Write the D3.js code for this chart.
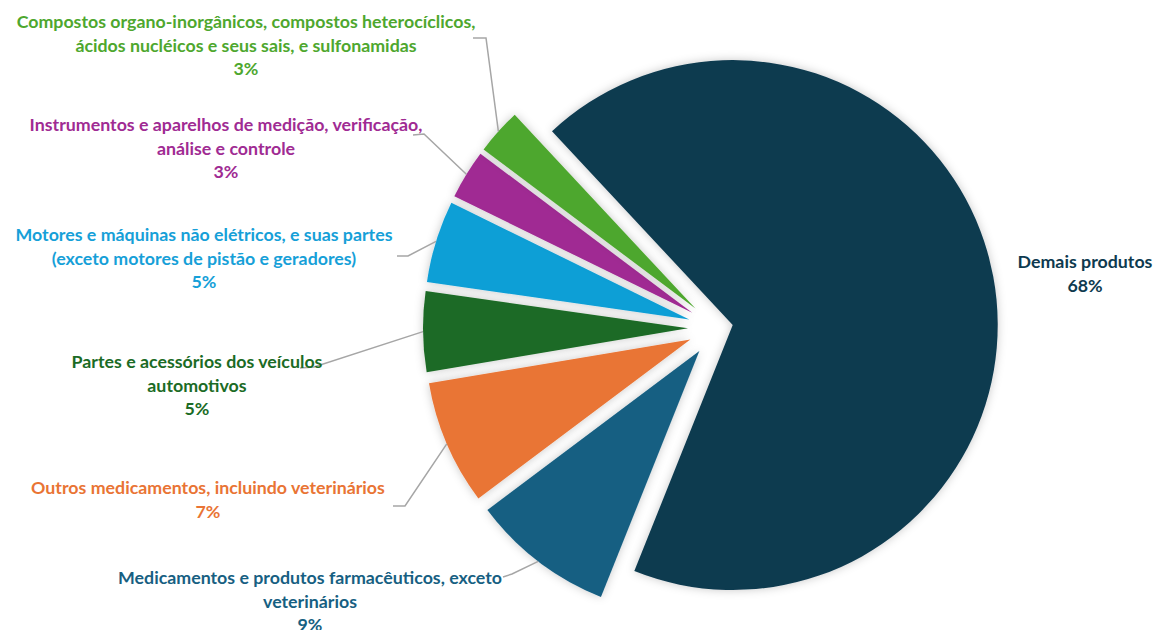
<!DOCTYPE html>
<html>
<head>
<meta charset="utf-8">
<script src="https://cdn.jsdelivr.net/npm/d3@7"></script>
<style>
  html, body { margin: 0; padding: 0; background: #fff; }
  svg { display: block; }
  text { font-family: Lato, "Open Sans", sans-serif; font-weight: bold; }
</style>
</head>
<body>
<svg id="chart" width="1155" height="630"></svg>
<script>
// ---- data ----
const categories = [
  "Demais produtos",
  "Medicamentos e produtos farmacêuticos, exceto veterinários",
  "Outros medicamentos, incluindo veterinários",
  "Partes e acessórios dos veículos automotivos",
  "Motores e máquinas não elétricos, e suas partes (exceto motores de pistão e geradores)",
  "Instrumentos e aparelhos de medição, verificação, análise e controle",
  "Compostos organo-inorgânicos, compostos heterocíclicos, ácidos nucléicos e seus sais, e sulfonamidas"
];
const values = [68.0, 8.7, 7.6, 4.9, 5.0, 3.0, 2.8];
const percentLabels = ["68%", "9%", "7%", "5%", "5%", "3%", "3%"];
const labelLines = [
  ["Demais produtos"],
  ["Medicamentos e produtos farmacêuticos, exceto", "veterinários"],
  ["Outros medicamentos, incluindo veterinários"],
  ["Partes e acessórios dos veículos", "automotivos"],
  ["Motores e máquinas não elétricos, e suas partes", "(exceto motores de pistão e geradores)"],
  ["Instrumentos e aparelhos de medição, verificação,", "análise e controle"],
  ["Compostos organo-inorgânicos, compostos heterocíclicos,", "ácidos nucléicos e seus sais, e sulfonamidas"]
];

// ---- styles / layout ----
const colors = ["#0e3a4f", "#175f82", "#e97434", "#1b6b25", "#119fd6", "#a02b93", "#4ea72e"];
const textColors = ["#0e3a4f", "#175f82", "#e97434", "#1b6b25", "#16a0d8", "#a02b93", "#4ea72e"];
const center = { x: 717, y: 328 };
const radius = 265;
const explode = [16, 29, 29, 29, 29, 29, 29];
const startDeg = -43;
// label block: centre x, first line centre y
const labelPos = [
  { x: 1085, y: 262 },
  { x: 310, y: 578 },
  { x: 208, y: 488 },
  { x: 197, y: 362 },
  { x: 204, y: 235 },
  { x: 226, y: 125 },
  { x: 246, y: 22 }
];
// leader line: points near the label (elbow), then the slice edge
const leaderStart = [
  null,
  [[503, 577], [512, 574]],
  [[393, 506], [405, 506]],
  [[300, 368], [314, 367]],
  [[397, 256], [408, 256]],
  [[413, 135], [424, 134]],
  [[473, 38], [486, 38]]
];
const lineH = 23.5;
const fontSize = 17.8;

const svg = d3.select("#chart");
const defs = svg.append("defs");
const f = defs.append("filter").attr("id", "shadow")
  .attr("x", "-20%").attr("y", "-20%").attr("width", "140%").attr("height", "140%");
f.append("feDropShadow").attr("dx", 0).attr("dy", 0).attr("stdDeviation", 5)
  .attr("flood-color", "#000").attr("flood-opacity", 0.22);

const pie = d3.pie().sort(null).value(d => d)
  .startAngle(startDeg * Math.PI / 180)
  .endAngle((startDeg + 360) * Math.PI / 180);
const arcs = pie(values);
const arc = d3.arc().innerRadius(0).outerRadius(radius);

const dir = a => [Math.sin(a), -Math.cos(a)];

const g = svg.append("g");
arcs.forEach((a, i) => {
  const mid = (a.startAngle + a.endAngle) / 2;
  const [ux, uy] = dir(mid);
  const cx = center.x + explode[i] * ux, cy = center.y + explode[i] * uy;
  g.append("path")
    .attr("d", arc(a))
    .attr("transform", `translate(${cx},${cy})`)
    .attr("fill", colors[i])
    .attr("filter", "url(#shadow)");
});

// leader lines
const lineGen = d3.line();
arcs.forEach((a, i) => {
  if (!leaderStart[i]) return;
  const mid = (a.startAngle + a.endAngle) / 2;
  const [ux, uy] = dir(mid);
  const cx = center.x + explode[i] * ux, cy = center.y + explode[i] * uy;
  const pts = leaderStart[i].concat([[cx + radius * ux, cy + radius * uy]]);
  svg.append("path").attr("d", lineGen(pts))
    .attr("fill", "none").attr("stroke", "#a6a6a6").attr("stroke-width", 1.5);
});

// labels
categories.forEach((c, i) => {
  const lines = labelLines[i].concat([percentLabels[i]]);
  const t = svg.append("text")
    .attr("text-anchor", "middle")
    .attr("fill", textColors[i])
    .attr("font-size", fontSize);
  lines.forEach((l, k) => {
    t.append("tspan")
      .attr("x", labelPos[i].x)
      .attr("y", labelPos[i].y + k * lineH)
      .attr("dy", "0.35em")
      .text(l);
  });
});
</script>
</body>
</html>
